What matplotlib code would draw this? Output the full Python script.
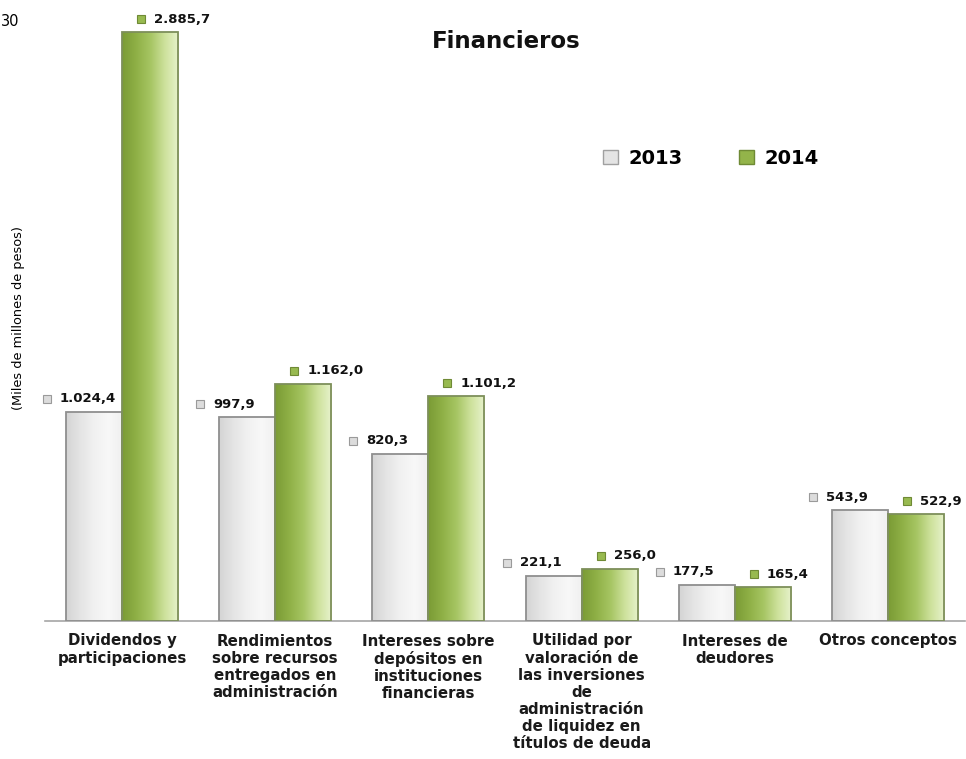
import numpy as np
import matplotlib
matplotlib.use("Agg")
import matplotlib.pyplot as plt
from matplotlib.patches import Rectangle
from matplotlib.colors import LinearSegmentedColormap
from matplotlib.transforms import ScaledTranslation

categories = [
    "Dividendos y\nparticipaciones",
    "Rendimientos\nsobre recursos\nentregados en\nadministración",
    "Intereses sobre\ndepósitos en\ninstituciones\nfinancieras",
    "Utilidad por\nvaloración de\nlas inversiones\nde\nadministración\nde liquidez en\ntítulos de deuda",
    "Intereses de\ndeudores",
    "Otros conceptos",
]
values_2013 = [1024.4, 997.9, 820.3, 221.1, 177.5, 543.9]
values_2014 = [2885.7, 1162.0, 1101.2, 256.0, 165.4, 522.9]
labels_2013 = ["1.024,4", "997,9", "820,3", "221,1", "177,5", "543,9"]
labels_2014 = ["2.885,7", "1.162,0", "1.101,2", "256,0", "165,4", "522,9"]
series_names = ["2013", "2014"]

fig = plt.figure(figsize=(9.66, 7.59), dpi=100)
ax = fig.add_axes([0.047, 1 - 621 / 759, 0.9515, (621 - 20) / 759])

cmap_grey = LinearSegmentedColormap.from_list("g", ["#d4d4d4", "#e4e4e4", "#f1f1f1", "#f8f8f8", "#efefef"])
cmap_green = LinearSegmentedColormap.from_list("gr", ["#7a9b35", "#8fb046", "#a6c563", "#cde19b", "#e8f3cd"])

width = 0.366
x = np.arange(len(categories))
grad = np.linspace(0, 1, 256).reshape(1, -1)

def draw_bars(xs, vals, cmap, edge):
    for xi, v in zip(xs, vals):
        x0 = xi - width / 2
        x1 = xi + width / 2
        im = ax.imshow(grad, cmap=cmap, aspect="auto", extent=[x0, x1, 0, v],
                       origin="lower", zorder=2, interpolation="bicubic")
        rect = Rectangle((x0, 0), width, v, facecolor="none", edgecolor=edge,
                         linewidth=1.3, zorder=3)
        ax.add_patch(rect)
        im.set_clip_path(rect)

draw_bars(x - width / 2, values_2013, cmap_grey, "#8f8f8f")
draw_bars(x + width / 2, values_2014, cmap_green, "#7d8f5a")

ax.set_xlim(-0.5, len(categories) - 0.5)
ax.set_ylim(0, 2945)
for s in ["top", "right", "left"]:
    ax.spines[s].set_visible(False)
ax.spines["bottom"].set_color("#a6a6a6")
ax.spines["bottom"].set_linewidth(1.2)
ax.set_yticks([])
ax.set_xticks(x)
ax.set_xticklabels(categories, fontsize=10.8, fontweight="bold", color="#1a1a1a",
                   linespacing=1.18)
ax.tick_params(axis="x", length=0, pad=9)

def add_labels(xs, vals, labels, face, edge, dx_px):
    # dx_px: offset of marker centre from bar centre, in pixels
    for xi, v, lab in zip(xs, vals, labels):
        off = ScaledTranslation(dx_px / 100, 13 / 100, fig.dpi_scale_trans)
        ax.plot([xi], [v], marker="s", markersize=6, markerfacecolor=face,
                markeredgecolor=edge, markeredgewidth=0.8, linestyle="none",
                transform=ax.transData + off, clip_on=False, zorder=4)
        off2 = ScaledTranslation((dx_px + 13) / 100, 13 / 100, fig.dpi_scale_trans)
        ax.text(xi, v, lab, transform=ax.transData + off2, ha="left", va="center",
                fontsize=9.5, fontweight="bold", color="#111111", zorder=4)

add_labels(x - width / 2, values_2013, labels_2013, "#dcdcdc", "#9a9a9a", -47)
add_labels(x + width / 2, values_2014, labels_2014, "#98ba50", "#6f8a35", -9)

# legend
handles = [Rectangle((0, 0), 1, 1, facecolor="#e4e4e4", edgecolor="#a0a0a0"),
           Rectangle((0, 0), 1, 1, facecolor="#93b44a", edgecolor="#6f8a35")]
fig.legend(handles, series_names, loc="center", bbox_to_anchor=(711 / 966, 1 - 158 / 759),
           ncol=2, frameon=False, handlelength=0.75, handleheight=0.75, handletextpad=0.55,
           columnspacing=2.9, prop={"weight": "bold", "size": 14})

fig.text(506 / 966, 1 - 42 / 759, "Financieros", ha="center", va="center",
         fontsize=16.5, fontweight="bold", color="#111111")
fig.text(19 / 966, 1 - 318 / 759, "(Miles de millones de pesos)", rotation=90,
         ha="center", va="center", fontsize=9.3,
         family=["Liberation Sans Narrow", "DejaVu Sans Condensed", "DejaVu Sans"])
fig.text(1 / 966, 1 - 22 / 759, "30", ha="left", va="center", fontsize=10.5)

fig.savefig("out.png", dpi=100)
